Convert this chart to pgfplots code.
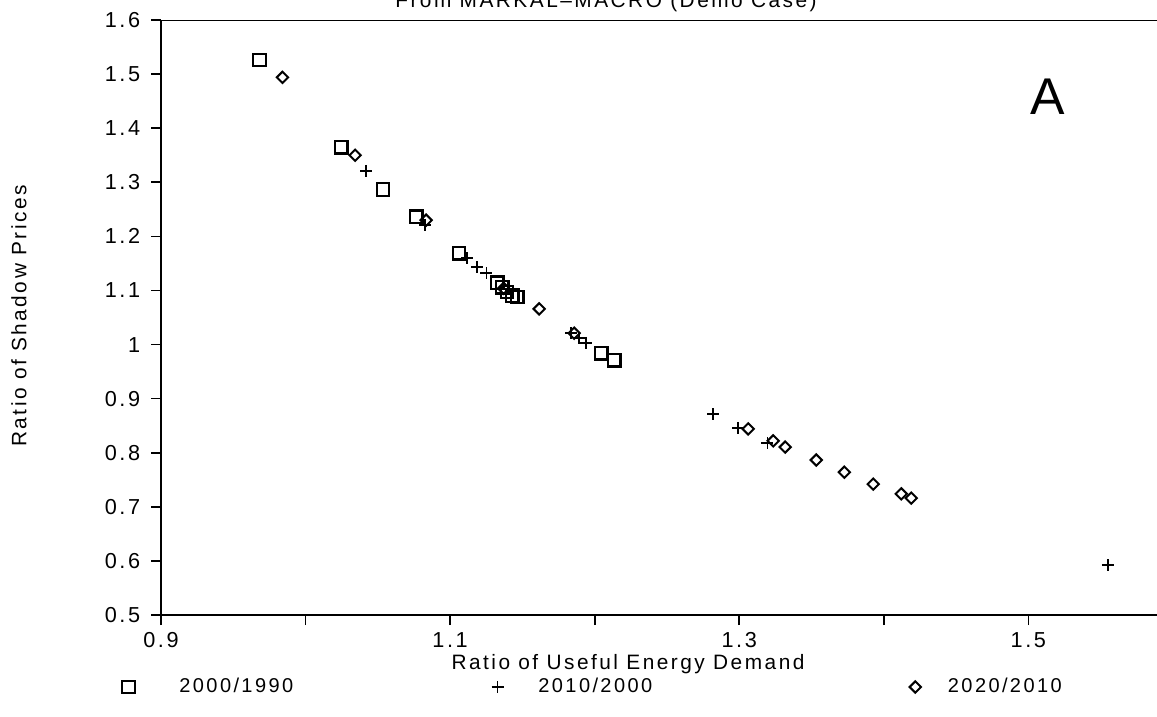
\documentclass[border=0pt]{standalone}
\usepackage{fontspec}
\setmainfont{Liberation Sans}[LetterSpace=12]
\usepackage{pgfplots}
\pgfplotsset{compat=1.18}
\begin{document}
\begin{tikzpicture}
\useasboundingbox (0,0) rectangle (694.2pt,429.6pt);
\pgfplotsset{
  legimg/.style={legend image code/.code={\draw[##1] plot coordinates {(0pt,0pt)}; \path (-4.5pt,0pt) (#1,0pt);}},
}
\begin{axis}[
  at={(96.6pt,60.6pt)}, anchor=south west,
  scale only axis, width=597.6pt, height=357pt,
  xmin=0.9, xmax=1.589, ymin=0.5, ymax=1.6,
  axis x line*=bottom, axis y line*=left,
  axis line style={line width=1.2pt,-},
  xtick={0.9,1,1.1,1.2,1.3,1.4,1.5},
  xticklabels={0.9,,1.1,,1.3,,1.5},
  ytick={0.5,0.6,0.7,0.8,0.9,1,1.1,1.2,1.3,1.4,1.5,1.6},
  yticklabels={0.5,0.6,0.7,0.8,0.9,1,1.1,1.2,1.3,1.4,1.5,1.6},
  tick align=outside, major tick length=6pt,
  tick style={line width=1pt,black},
  /pgf/number format/assume math mode=true,
  tick label style={font=\fontsize{13}{14}\selectfont},
  yticklabel style={xshift=-3pt},
  xticklabel style={yshift=-1pt},
  legend columns=3,
  legend style={at={(axis description cs:-0.0417,-0.121)}, anchor=west,
    draw=none, fill=none, inner sep=0pt,
    font=\fontsize{12}{13}\selectfont},
]
\draw[line width=1.2pt] (rel axis cs:0,1) -- (rel axis cs:1,1);
\addplot[only marks, mark=square, mark size=3.8pt, line width=1.3pt, black, legimg={28pt}] coordinates {
(0.968,1.526) (1.0246,1.365) (1.0536,1.287) (1.0765,1.236) (1.1062,1.169)
(1.1325,1.114) (1.136,1.106) (1.1394,1.097) (1.1429,1.090) (1.1464,1.088)
(1.2045,0.984) (1.2135,0.971)
};
\addlegendentry{\makebox[184pt][l]{2000/1990}}
\addplot[only marks, mark=+, mark size=3.6pt, line width=0.9pt, black, legimg={22pt}] coordinates {
(1.0419,1.321) (1.0827,1.221) (1.1118,1.160) (1.1187,1.143) (1.125,1.132)
(1.1837,1.021) (1.1893,1.012) (1.1941,1.003) (1.282,0.8715) (1.2993,0.846)
(1.3194,0.818) (1.555,0.592)
};
\addlegendentry{\makebox[219pt][l]{2010/2000}}
\addplot[only marks, mark=square, mark size=2.4pt, mark options={rotate=45}, line width=1.2pt, black, legimg={17pt}] coordinates {
(0.984,1.494) (1.0343,1.350) (1.0834,1.230) (1.137,1.104) (1.1616,1.066)
(1.1858,1.021) (1.3062,0.844) (1.3235,0.822) (1.3318,0.8105) (1.3533,0.7865)
(1.3727,0.764) (1.3927,0.742) (1.4121,0.724) (1.419,0.716)
};
\addlegendentry{2020/2010}
\end{axis}
\node[anchor=base, font=\fontsize{12.5}{14}\selectfont] at (363.6pt,424.8pt) {From MARKAL--MACRO (Demo Case)};
\node[font=\fontsize{31}{33}\selectfont] at (628.8pt,371.4pt) {A};
\node[font=\fontsize{12.5}{14}\selectfont] at (376.8pt,31.2pt) {Ratio of Useful Energy Demand};
\node[rotate=90, font=\fontsize{12.5}{14}\selectfont] at (11.4pt,240pt) {Ratio of Shadow Prices};
\end{tikzpicture}
\end{document}
